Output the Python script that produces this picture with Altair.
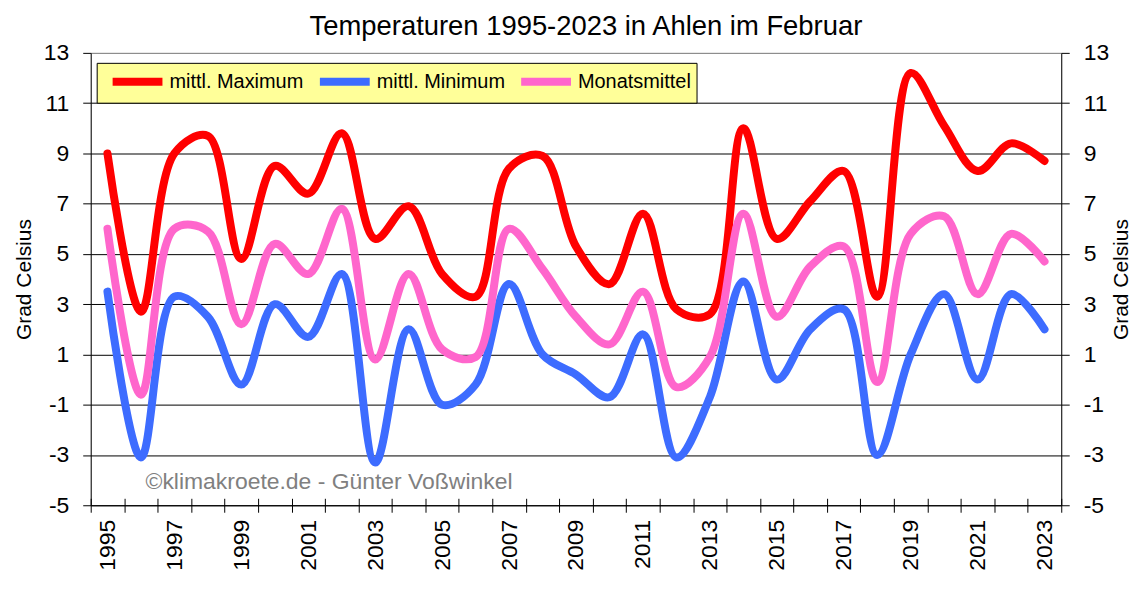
import altair as alt
import pandas as pd

years = list(range(1995, 2024))
max_vals = [9.0, 2.7, 9.0, 9.7, 4.8, 8.5, 7.4, 9.8, 5.6, 6.9,
            4.2, 3.3, 8.4, 8.9, 5.3, 3.8, 6.6, 2.8, 2.6, 10.0,
            5.6, 7.1, 8.3, 3.3, 12.2, 10.1, 8.3, 9.4, 8.7]
min_vals = [3.5, -3.1, 3.3, 2.5, -0.2, 3.0, 1.7, 4.2, -3.3, 2.0,
            -1.0, -0.2, 3.8, 1.0, 0.2, -0.7, 1.8, -3.1, -0.7, 3.9,
            0.0, 2.0, 2.8, -3.0, 1.0, 3.4, 0.0, 3.4, 2.0]
mean_vals = [6.0, -0.6, 6.0, 5.9, 2.2, 5.4, 4.2, 6.8, 0.8, 4.2,
             1.2, 0.9, 6.0, 4.4, 2.5, 1.4, 3.5, -0.3, 0.9, 6.6,
             2.5, 4.5, 5.3, -0.1, 5.8, 6.5, 3.4, 5.8, 4.7]

series_names = ["mittl. Maximum", "mittl. Minimum", "Monatsmittel"]
series_colors = ["#FF0000", "#3D6CFF", "#FF66CC"]
y_ticks = list(range(-5, 14, 2))
x_labels = list(range(1995, 2024, 2))
x_bounds = [y - 0.5 for y in range(1995, 2025)]
title_text = "Temperaturen 1995-2023 in Ahlen im Februar"
axis_title = "Grad Celsius"
watermark = "©klimakroete.de - Günter Voßwinkel"

rows = []
for name, vals in zip(series_names, [max_vals, min_vals, mean_vals]):
    for yr, v in zip(years, vals):
        rows.append({"Jahr": yr, "Serie": name, "Wert": v})
df = pd.DataFrame(rows)

FONT = "Liberation Sans"
xscale = alt.Scale(domain=[1994.5, 2023.5], nice=False, zero=False)
yscale = alt.Scale(domain=[-5, 13], nice=False, zero=False)
hyphen_label = "datum.value < 0 ? '-' + abs(datum.value) : '' + datum.value"

lines = alt.Chart(df).mark_line(
    interpolate="catmull-rom", strokeWidth=8,
    strokeCap="round", strokeJoin="round"
).encode(
    x=alt.X("Jahr:Q", scale=xscale,
            axis=alt.Axis(values=x_labels, labelAngle=270, ticks=False, grid=False,
                          domain=True, domainColor="black", labelFontSize=23,
                          labelPadding=14, title=None, format="d", orient="bottom",
                          labelFlush=False, labelOverlap=False)),
    y=alt.Y("Wert:Q", scale=yscale,
            axis=alt.Axis(values=y_ticks, title=axis_title, titleFontSize=21,
                          titleFontWeight="normal",
                          labelFontSize=23, tickSize=8, labelPadding=14,
                          labelAlign="right",
                          labelExpr=hyphen_label,
                          grid=True,
                          gridColor={"condition": {"test": "datum.value == 13", "value": "#808080"}, "value": "black"},
                          gridWidth=1, domainColor="black", tickColor="black",
                          titlePadding=9, orient="left", labelFlush=False)),
    color=alt.Color("Serie:N",
                    scale=alt.Scale(domain=series_names, range=series_colors),
                    sort=series_names,
                    legend=alt.Legend(orient="none", legendX=6, legendY=10,
                                      direction="horizontal", title=None,
                                      fillColor="#FFFF99", strokeColor="black",
                                      padding=5, symbolType="M-2.5,0H2.5",
                                      symbolStrokeWidth=8, symbolSize=400,
                                      symbolOffset=22,
                                      labelFontSize=20, labelFont=FONT,
                                      labelColor="black", labelOffset=18,
                                      columnPadding=0, labelLimit=400)),
    order=alt.Order("Jahr:Q"),
)

ticks_layer = alt.Chart(df).mark_line(strokeOpacity=0).encode(
    x=alt.X("Jahr:Q", scale=xscale,
            axis=alt.Axis(values=x_bounds, labels=False, ticks=True, tickSize=14,
                          offset=-7, domain=False, grid=False, title=None,
                          tickColor="black", orient="bottom")),
    y=alt.Y("Wert:Q", scale=yscale,
            axis=alt.Axis(values=y_ticks, title=axis_title, titleFontSize=21,
                          titleFontWeight="normal",
                          labelFontSize=23, tickSize=8, labelPadding=14,
                          labelAlign="left", labelAngle=0, labelBaseline="middle",
                          labelExpr=hyphen_label,
                          grid=False, domainColor="black", tickColor="black",
                          titlePadding=2, orient="right", titleAngle=270,
                          titleBaseline="top",
                          labelFlush=False)),
    detail="Serie:N",
)

wm = alt.Chart(pd.DataFrame({"t": [watermark]})).mark_text(
    align="left", baseline="alphabetic", fontSize=23, font=FONT, color="#808080"
).encode(
    text="t:N", x=alt.value(55), y=alt.value(438)
)

chart = alt.layer(ticks_layer, lines, wm).resolve_axis(
    x="independent", y="independent"
).properties(
    width=974, height=454,
    autosize=alt.AutoSizeParams(type="none"),
    padding={"left": 83, "top": 44, "right": 70, "bottom": 80},
    title=alt.TitleParams(title_text, fontSize=27.5, font=FONT, fontWeight="normal",
                          color="black", anchor="middle", dx=10, offset=1),
).configure_view(
    fill="#C0C0C0", stroke="#808080", strokeWidth=1
).configure_axis(
    labelFont=FONT, titleFont=FONT, labelColor="black", titleColor="black",
    titleFontWeight="normal"
).configure(background="white")

chart.save("out.html", embed_options={"renderer": "svg", "actions": False})
